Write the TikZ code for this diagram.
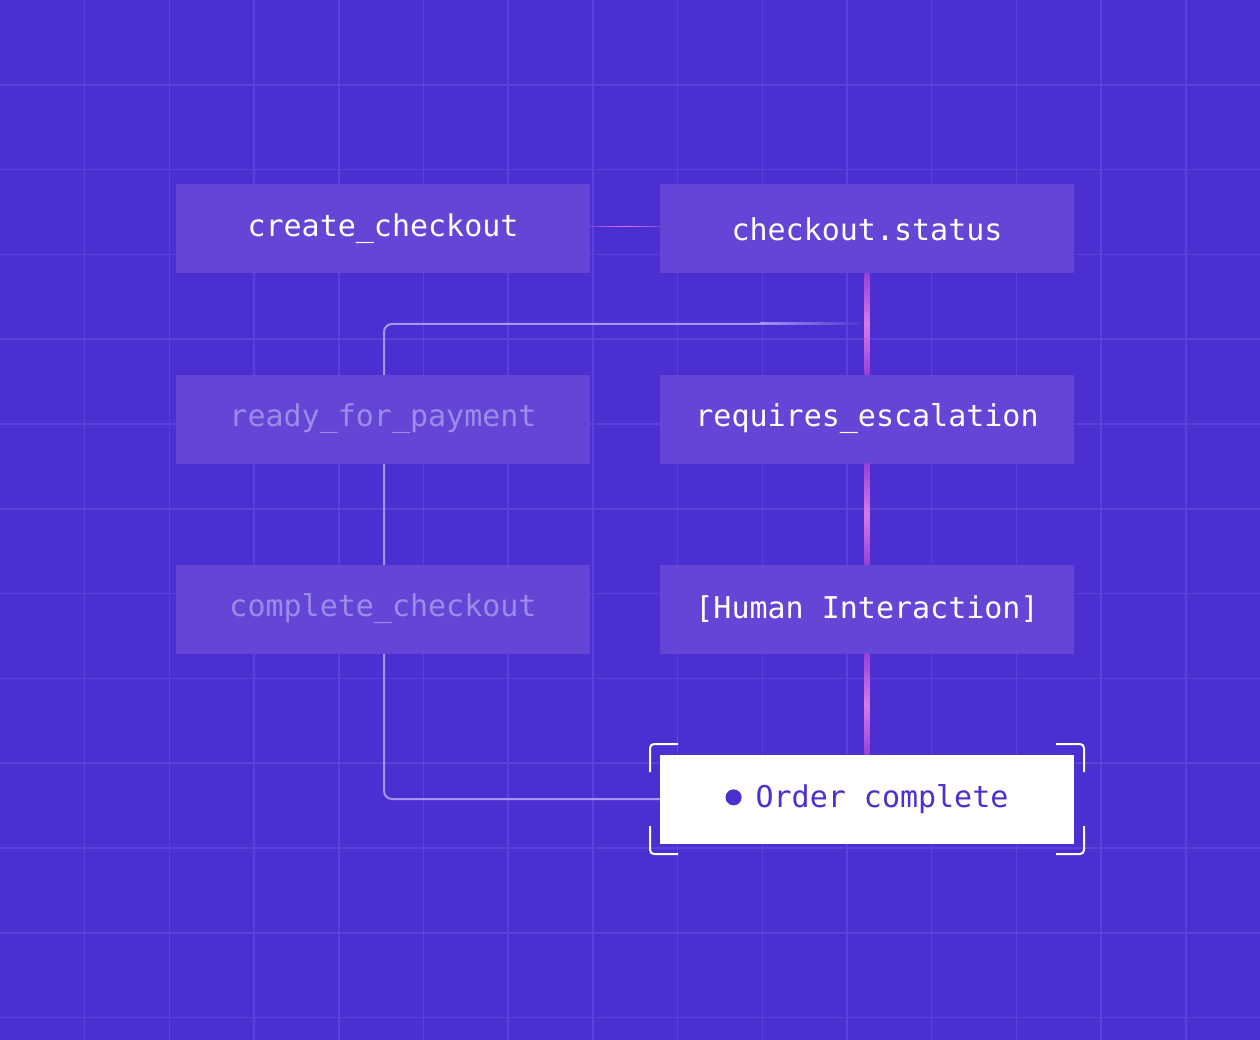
\documentclass[tikz,border=0pt]{standalone}
\usepackage{fontspec}
\setmonofont{DejaVu Sans Mono}
\usetikzlibrary{positioning}
\definecolor{bgblue}{HTML}{4C2FD0}
\definecolor{gridline}{HTML}{5B40D9}
\definecolor{boxfill}{HTML}{6445D5}
\definecolor{fadetext}{HTML}{9C8BEA}
\definecolor{trackline}{HTML}{A596F2}
\definecolor{linkpink}{HTML}{D77BE6}
\definecolor{linkdark}{HTML}{9A3FD6}
\tikzset{
  stepbox/.style={rectangle,fill=boxfill,minimum width=414pt,minimum height=89pt,
    font=\ttfamily\fontsize{30}{36}\selectfont,text=white,inner sep=0pt},
  fadebox/.style={stepbox,text=fadetext},
  donebox/.style={stepbox,fill=white,text=bgblue},
  track/.style={trackline,line width=2pt,rounded corners=8pt},
  bracket/.style={white,line width=2pt,rounded corners=4pt}
}
\begin{document}
\begin{tikzpicture}[x=1pt,y=-1pt]
\fill[bgblue] (0,0) rectangle (1260,1040);
\useasboundingbox (0,0) rectangle (1260,1040);
% grid
\foreach \i in {1,...,14} {
  \draw[gridline,line width=1.5pt] (84.7*\i,0) -- (84.7*\i,1040);
}
\foreach \i in {1,...,12} {
  \draw[gridline,line width=1.5pt] (0,84.8*\i) -- (1260,84.8*\i);
}

% left track behind the boxes
\coordinate (tstart) at (760,324);
\draw[track] (tstart) -- (384,324) -- (384,799) -- (660,799);
\shade[left color=trackline,right color=bgblue] (760,323) rectangle (867,325);

\node[stepbox] (create) at (383,229) {create\_checkout};
\node[stepbox] (status) at (867,229) {checkout.status};
\node[fadebox] (ready) at (383,419) {ready\_for\_payment};
\node[stepbox] (escal) at (867,419) {requires\_escalation};
\node[fadebox] (complete) at (383,609) {complete\_checkout};
\node[stepbox] (human) at (867,609) {[Human Interaction]};
\node[donebox] (order) at (867,799) {\textcolor{bgblue}{\raisebox{2pt}{\tikz\fill[bgblue] (0,0) circle (8pt);}}\hspace{14pt}Order complete};

% pink links
\shade[left color=linkdark,right color=linkdark,middle color=linkpink]
  (create.east) ++(0,-2.5) rectangle ([yshift=2.5pt]status.west);
\foreach \a/\b in {status/escal,escal/human,human/order} {
  \shade[top color=linkdark,bottom color=linkdark,middle color=linkpink]
    ([xshift=-2.5pt]\a.south) rectangle ([xshift=2.5pt]\b.north);
}

% corner brackets
\draw[bracket] (650,772) -- (650,744) -- (678,744);
\draw[bracket] (1056,744) -- (1084,744) -- (1084,772);
\draw[bracket] (650,826) -- (650,854) -- (678,854);
\draw[bracket] (1056,854) -- (1084,854) -- (1084,826);
\end{tikzpicture}
\end{document}
